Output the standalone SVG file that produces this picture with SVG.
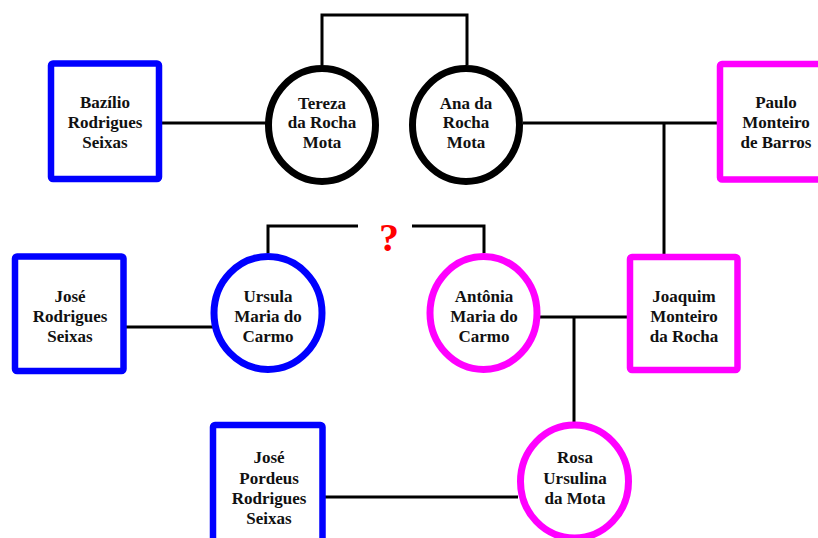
<svg xmlns="http://www.w3.org/2000/svg" width="818" height="538" viewBox="0 0 818 538">
  <style>
    .m { fill: #ffffff; stroke-width: 6.5; }
    .f { fill: #ffffff; stroke-width: 7; }
    .blue { stroke: #0000ff; }
    .pink { stroke: #ff00ff; }
    .black { stroke: #000000; }
    .lbl { font-family: "Liberation Serif", "Times New Roman", serif; font-weight: bold; font-size: 17px; fill: #111111; text-anchor: middle; }
    .link { fill: none; stroke: #000000; stroke-width: 3; }
    .q { font-family: "Liberation Serif", "Times New Roman", serif; font-weight: bold; font-size: 40px; fill: #ff0000; text-anchor: middle; }
  </style>
  <rect width="818" height="538" fill="#ffffff"/>

  <g id="connectors">
    <line class="link" x1="162" y1="123" x2="266" y2="123"/>
    <path class="link" d="M322,65 V15 H467 V65"/>
    <line class="link" x1="523" y1="123" x2="718" y2="123"/>
    <line class="link" x1="664" y1="123" x2="664" y2="255"/>
    <line class="link" x1="126" y1="327" x2="213" y2="327"/>
    <path class="link" d="M268,253 V226 H358"/>
    <path class="link" d="M412,226 H484 V253"/>
    <line class="link" x1="540" y1="317" x2="628" y2="317"/>
    <line class="link" x1="574" y1="317" x2="574" y2="422"/>
    <line class="link" x1="325" y1="497" x2="518" y2="497"/>
    <text class="q" x="389" y="251">?</text>
  </g>

  <g id="bazilio">
    <rect class="m blue" x="51" y="63.5" width="108" height="115.5" rx="2"/>
    <text class="lbl"><tspan x="105" y="108">Bazílio</tspan><tspan x="105" y="128">Rodrigues</tspan><tspan x="105" y="148">Seixas</tspan></text>
  </g>

  <g id="tereza">
    <ellipse class="f black" cx="322" cy="125" rx="53.5" ry="56.5"/>
    <text class="lbl"><tspan x="322" y="109">Tereza</tspan><tspan x="322" y="128">da Rocha</tspan><tspan x="322" y="148">Mota</tspan></text>
  </g>

  <g id="ana">
    <ellipse class="f black" cx="466" cy="125" rx="53.5" ry="56.5"/>
    <text class="lbl"><tspan x="466" y="109">Ana da</tspan><tspan x="466" y="128">Rocha</tspan><tspan x="466" y="148">Mota</tspan></text>
  </g>

  <g id="paulo">
    <rect class="m pink" x="720" y="64" width="112" height="115.5" rx="2"/>
    <text class="lbl"><tspan x="776" y="108">Paulo</tspan><tspan x="776" y="128">Monteiro</tspan><tspan x="776" y="148">de Barros</tspan></text>
  </g>

  <g id="jose-rodrigues">
    <rect class="m blue" x="15" y="256.5" width="108.5" height="114.5" rx="2"/>
    <text class="lbl"><tspan x="70" y="302">José</tspan><tspan x="70" y="322">Rodrigues</tspan><tspan x="70" y="342">Seixas</tspan></text>
  </g>

  <g id="ursula">
    <ellipse class="f blue" cx="268" cy="313" rx="54" ry="56.5"/>
    <text class="lbl"><tspan x="268" y="302">Ursula</tspan><tspan x="268" y="322">Maria do</tspan><tspan x="268" y="342">Carmo</tspan></text>
  </g>

  <g id="antonia">
    <ellipse class="f pink" cx="483.5" cy="313" rx="53.5" ry="56.5"/>
    <text class="lbl"><tspan x="484" y="302">Antônia</tspan><tspan x="484" y="322">Maria do</tspan><tspan x="484" y="342">Carmo</tspan></text>
  </g>

  <g id="joaquim">
    <rect class="m pink" x="630" y="257" width="107.5" height="113" rx="2"/>
    <text class="lbl"><tspan x="684" y="302">Joaquim</tspan><tspan x="684" y="322">Monteiro</tspan><tspan x="684" y="342">da Rocha</tspan></text>
  </g>

  <g id="jose-pordeus">
    <rect class="m blue" x="213" y="425" width="109.5" height="125" rx="2"/>
    <text class="lbl"><tspan x="269" y="463">José</tspan><tspan x="269" y="484">Pordeus</tspan><tspan x="269" y="504">Rodrigues</tspan><tspan x="269" y="524">Seixas</tspan></text>
  </g>

  <g id="rosa">
    <ellipse class="f pink" cx="574.5" cy="481.5" rx="54" ry="56.5"/>
    <text class="lbl"><tspan x="575" y="463">Rosa</tspan><tspan x="575" y="484">Ursulina</tspan><tspan x="575" y="504">da Mota</tspan></text>
  </g>
</svg>
